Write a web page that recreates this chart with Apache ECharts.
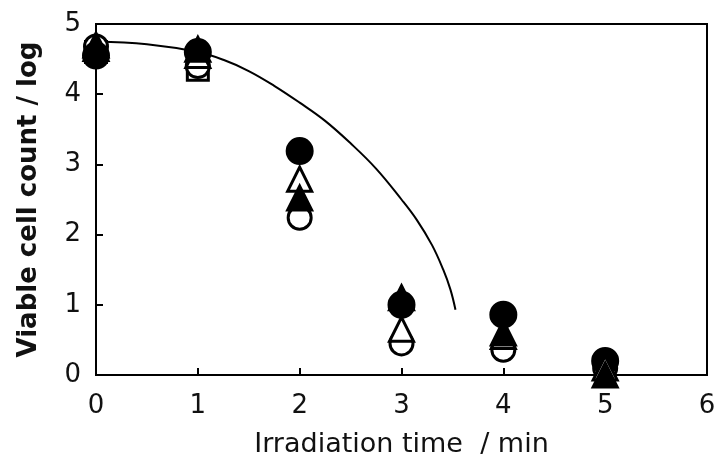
<!DOCTYPE html>
<html><head><meta charset="utf-8">
<script src="https://cdn.jsdelivr.net/npm/echarts@6/dist/echarts.min.js"></script>
<style>html,body{margin:0;padding:0;background:#fff}#c{width:715px;height:455px}</style>
</head><body><div id="c"></div>
<script>
const times = [0, 1, 2, 3, 4, 5];
const filledCircle = [4.55, 4.6, 3.19, 1.0, 0.86, 0.2];
const openCircle = [4.68, 4.4, 2.24, 0.45, 0.36, 0.1];
const filledTriangle = [4.65, 4.64, 2.52, 1.1, 0.6, 0.0];
const openTriangle = [4.7, 4.55, 2.79, 0.65, 0.55, 0.1];
const openSquareTimes = [0, 1];
const openSquare = [4.6, 4.35];
const curveX = [0, 0.5, 1, 1.25, 1.5, 1.75, 2.0, 2.25, 2.5, 2.75, 3.0, 3.15, 3.3, 3.41, 3.48, 3.53];
const curveY = [4.75, 4.71, 4.6, 4.49, 4.33, 4.12, 3.88, 3.62, 3.3, 2.94, 2.5, 2.21, 1.85, 1.5, 1.22, 0.93];
const xTicks = [0, 1, 2, 3, 4, 5, 6];
const yTicks = [0, 1, 2, 3, 4, 5];

const pairs = (xs, ys) => ys.map((v, i) => [xs[i], v]);
const font = '"DejaVu Sans", sans-serif';
const sc = (name, data, symbol, filled, size, z) => ({
  type: 'scatter', name, data, symbol, symbolSize: size, clip: false, z,
  itemStyle: { color: filled ? '#000' : '#fff', opacity: 1, borderColor: '#000', borderWidth: 3 }
});
const chart = echarts.init(document.getElementById('c'));
chart.setOption({
  animation: false,
  grid: { left: 96, right: 8, top: 24, bottom: 80, show: true, borderColor: '#000', borderWidth: 2,
    outerBoundsMode: 'none', containLabel: false },
  xAxis: {
    type: 'value', min: 0, max: 6, interval: 1,
    name: 'Irradiation time  / min', nameLocation: 'middle', nameGap: 56,
    nameTextStyle: { fontFamily: font, fontSize: 27, color: '#111' },
    axisLine: { lineStyle: { color: '#000', width: 2 } },
    axisTick: { inside: true, length: 7, lineStyle: { color: '#000', width: 2 } },
    axisLabel: { fontFamily: font, fontSize: 26, color: '#111', margin: 18,
      formatter: v => xTicks.includes(v) ? String(v) : '' },
    splitLine: { show: false }
  },
  yAxis: {
    type: 'value', min: 0, max: 5, interval: 1,
    name: 'Viable cell count / log', nameLocation: 'middle', nameGap: 54, nameRotate: 90,
    nameTextStyle: { fontFamily: font, fontSize: 26, fontWeight: 'bold', color: '#111' },
    axisLine: { lineStyle: { color: '#000', width: 2 } },
    axisTick: { inside: true, length: 7, lineStyle: { color: '#000', width: 2 } },
    axisLabel: { fontFamily: font, fontSize: 26, color: '#111', margin: 15,
      formatter: v => yTicks.includes(v) ? String(v) : '' },
    splitLine: { show: false }
  },
  series: [
    { type: 'line', data: pairs(curveX, curveY), smooth: 0.4, showSymbol: false,
      lineStyle: { color: '#000', width: 2 }, z: 1 },
    sc('open square', pairs(openSquareTimes, openSquare), 'rect', false, 21, 2),
    sc('open circle', pairs(times, openCircle), 'circle', false, 23, 3),
    sc('filled circle', pairs(times, filledCircle), 'circle', true, 25, 4),
    sc('open triangle', pairs(times, openTriangle), 'triangle', false, 24, 5),
    sc('filled triangle', pairs(times, filledTriangle), 'triangle', true, 24, 6)
  ]
});
</script></body></html>
